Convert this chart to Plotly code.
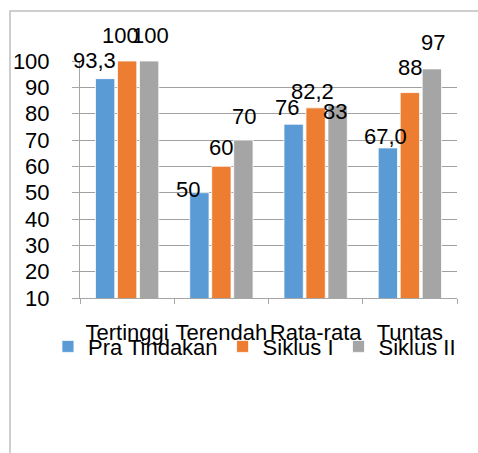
import plotly.graph_objects as go

categories = ["Tertinggi", "Terendah", "Rata-rata", "Tuntas"]
series_names = ["Pra Tindakan", "Siklus I", "Siklus II"]
pra_tindakan = [93.3, 50, 76, 67.0]
siklus_1 = [100, 60, 82.2, 88]
siklus_2 = [100, 70, 83, 97]
labels_pra = ["93,3", "50", "76", "67,0"]
labels_s1 = ["100", "60", "82,2", "88"]
labels_s2 = ["100", "70", "83", "97"]
y_ticks = [10, 20, 30, 40, 50, 60, 70, 80, 90, 100]

colors = ["#5B9BD5", "#ED7D31", "#A5A5A5"]
# pixel nudges for the data labels (style only), per series per category
nudges = [
    [(-11, 18), (-11, 3), (-7, 17), (-2, 11)],
    [(-7, 26), (0, 19), (-3, 16), (0, 25)],
    [(1, 26), (1, 24), (-3, -6), (1, 26)],
]

FONT = "Liberation Sans, Arial, sans-serif"
FS = 22
W, H = 478, 453
ML, MR, MT, MB = 80, 21, 61, 155
pw = W - ML - MR
ph = H - MT - MB
cat_px = pw / len(categories)

fig = go.Figure()
all_vals = [pra_tindakan, siklus_1, siklus_2]
all_labels = [labels_pra, labels_s1, labels_s2]
for name, vals, col in zip(series_names, all_vals, colors):
    fig.add_trace(go.Bar(
        name=name, x=categories, y=vals,
        marker=dict(color=col, line=dict(color="rgba(255,255,255,0.8)", width=1)),
    ))

bargap, bargroupgap = 0.3, 0.12
slot = (1 - bargap) / 3
annotations = []
for s, (vals, labs) in enumerate(zip(all_vals, all_labels)):
    for c, (v, lab) in enumerate(zip(vals, labs)):
        dx, dy = nudges[s][c]
        annotations.append(dict(
            x=c + (s - 1) * slot + dx / cat_px, y=v, xref="x", yref="y", text=lab,
            showarrow=False, yshift=dy, yanchor="middle", xanchor="center",
            font=dict(family=FONT, size=FS, color="#000000"),
        ))

fig.update_layout(
    width=W, height=H,
    margin=dict(l=ML, r=MR, t=MT, b=MB, pad=0),
    paper_bgcolor="white", plot_bgcolor="white",
    barmode="group", bargap=bargap, bargroupgap=bargroupgap,
    font=dict(family=FONT, size=FS, color="#000000"),
    showlegend=True,
    legend=dict(orientation="h", x=-0.085, xanchor="left", y=-0.205, yanchor="middle",
                font=dict(family=FONT, size=FS, color="#000000"),
                itemwidth=30, tracegroupgap=0, bgcolor="rgba(0,0,0,0)"),
    annotations=annotations,
    shapes=[dict(type="rect", xref="paper", yref="paper",
                 x0=(10 - ML) / pw, x1=1.3, y0=-1.0, y1=(H - MB - 11) / ph,
                 line=dict(color="#BFBFBF", width=1.5), fillcolor="rgba(0,0,0,0)",
                 layer="below")],
)
fig.update_xaxes(
    range=[-0.5, len(categories) - 0.5],
    showline=True, linecolor="#A6A6A6", linewidth=1,
    ticks="outside", ticklen=5, tickcolor="#A6A6A6", tickson="boundaries",
    ticklabelstandoff=15, showgrid=False, tickangle=0, automargin=False,
    tickfont=dict(family=FONT, size=FS, color="#000000"),
)
fig.update_yaxes(
    range=[10, 100], tickvals=y_ticks, showline=True, linecolor="#A6A6A6", linewidth=1,
    ticks="outside", ticklen=7, tickcolor="#A6A6A6",
    showgrid=True, gridcolor="#A0A0A0", gridwidth=1, zeroline=False,
    ticklabelstandoff=18, automargin=False,
    tickfont=dict(family=FONT, size=FS, color="#000000"),
)
fig.write_html("out.html")
